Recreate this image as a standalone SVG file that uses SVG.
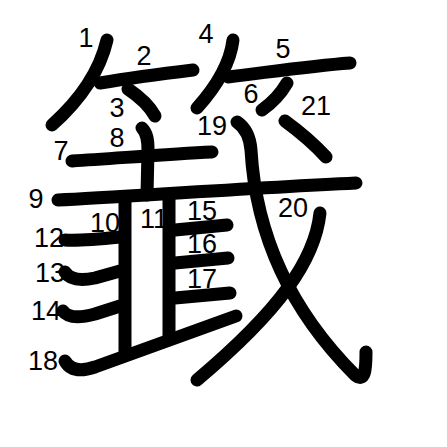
<svg xmlns="http://www.w3.org/2000/svg" width="447" height="447" viewBox="0 0 447 447">
<style>
.s{fill:none;stroke:#000;stroke-width:13;stroke-linecap:round;stroke-linejoin:round}
.n{font-family:"Liberation Sans",Arial,sans-serif;font-size:27px;fill:#000;text-anchor:middle}
</style>
<rect width="447" height="447" fill="#fff"/>
<g id="strokes">
<path class="s" d="M107,40 C100,70 80,100 52,125"/>
<path class="s" d="M100,83 C130,78 160,74 193,70"/>
<path class="s" d="M128,89 C140,97 150,107 155,116"/>
<path class="s" d="M233,40 C230,65 215,88 197,108"/>
<path class="s" d="M228,77 C270,72 310,66 350,63"/>
<path class="s" d="M287,83 C280,95 272,103 262,110"/>
<path class="s" d="M72,161 C120,158 170,154 212,152"/>
<path class="s" d="M142,128 C147,133 148,140 148,150 L147,195"/>
<path class="s" d="M58,200 C120,197 250,188 356,183"/>
<path class="s" d="M125,198 L125,355"/>
<path class="s" d="M169,194 L169,338"/>
<path class="s" d="M65,240 C80,241 100,239 120,237"/>
<path class="s" d="M65,272 C70,280 80,281 95,278 L120,271"/>
<path class="s" d="M63,311 C68,318 80,318 95,314 L120,306"/>
<path class="s" d="M175,230 L227,225"/>
<path class="s" d="M175,263 L228,258"/>
<path class="s" d="M175,298 L230,293"/>
<path class="s" d="M65,361 C70,370 80,372 95,367 L236,316"/>
<path class="s" d="M237,122 C246,128 250,138 251,150 C255,220 280,300 355,375 C365,383 366,370 366,352"/>
<path class="s" d="M320,213 C315,260 280,310 197,380"/>
<path class="s" d="M285,121 C300,132 315,145 326,157"/>
</g>
<g id="labels">
<text class="n" x="86" y="47">1</text>
<text class="n" x="144" y="65">2</text>
<text class="n" x="117" y="117">3</text>
<text class="n" x="206" y="43">4</text>
<text class="n" x="283" y="58">5</text>
<text class="n" x="251" y="103">6</text>
<text class="n" x="61" y="160">7</text>
<text class="n" x="117" y="147">8</text>
<text class="n" x="36" y="208">9</text>
<text class="n" x="105" y="232">10</text>
<text class="n" x="154" y="228">11</text>
<text class="n" x="49" y="247">12</text>
<text class="n" x="50" y="282">13</text>
<text class="n" x="46" y="320">14</text>
<text class="n" x="202" y="220">15</text>
<text class="n" x="202" y="253">16</text>
<text class="n" x="202" y="288">17</text>
<text class="n" x="43" y="370">18</text>
<text class="n" x="212" y="135">19</text>
<text class="n" x="293" y="217">20</text>
<text class="n" x="316" y="115">21</text>
</g>
</svg>
